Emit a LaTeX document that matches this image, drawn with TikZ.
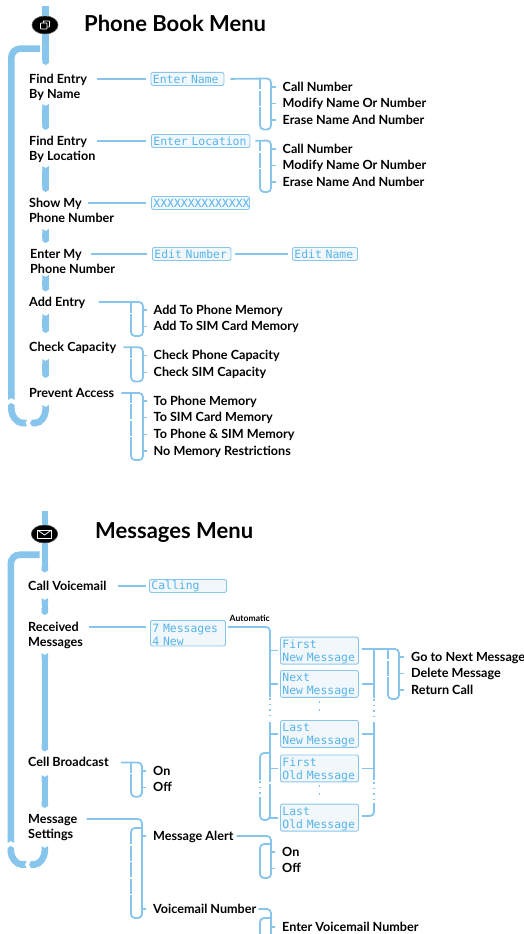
\documentclass[tikz,border=0pt]{standalone}
\usepackage{fontspec}
\usetikzlibrary{arrows.meta,shapes.geometric}
\setmainfont{Lato}
\newfontfamily\lcdfont{DejaVu Sans Mono}
\definecolor{flowblue}{HTML}{87C5EC}
\definecolor{lcdfill}{HTML}{F2F7FB}
\definecolor{lcdtext}{HTML}{55B4EA}
\newcommand{\twol}[2]{\vtop{\baselineskip=15.5pt\hbox{#1}\hbox to 0pt{#2\hss}}}
\tikzset{
  trunk/.style={draw=flowblue,line width=6.6pt},
  trunkseg/.style={trunk,{Triangle Cap[reversed,length=2pt]}-{Triangle Cap[length=2pt]}},
  lk/.style={draw=flowblue,line width=1.8pt},
  lkr/.style={lk,rounded corners=4pt},
  inner/.style={draw=flowblue,line width=1.1pt,dash pattern=on 15pt off 1.5pt},
  tickline/.style={lk,line width=1.3pt,shorten >=7pt},
  dotline/.style={draw=flowblue,line width=1.7pt,dash pattern=on 1.7pt off 6.3pt},
  gapdash/.style={draw=flowblue,line width=1.4pt,dash pattern=on 1.5pt off 4pt},
  lbl/.style={anchor=base west,inner sep=0pt,text height=10pt,text depth=2pt,font=\fontsize{12.6}{15}\selectfont\bfseries},
  heading/.style={anchor=base west,inner sep=0pt,font=\fontsize{22}{24}\selectfont\bfseries},
  lcd/.style={anchor=north west,draw=flowblue,fill=lcdfill,line width=0.9pt,rounded corners=2pt,inner xsep=2pt,inner ysep=0pt,align=left,text=lcdtext,font=\fontsize{11.4}{13}\lcdfont\selectfont,text width=#1},
  lcdone/.style={lcd=#1,minimum height=13pt},
  lcdtwo/.style={lcd=#1,minimum height=25.5pt,execute at begin node={\rule{0pt}{11.5pt}}},
}
\begin{document}
\begin{tikzpicture}[x=1pt,y=-1pt]
\useasboundingbox (0,0) rectangle (524,934);
\clip (0,0) rectangle (524,934);
% ---------- Phone Book ----------
\node[heading] (pbtitle) at (84,31.5) {Phone Book Menu};
\node[draw=black!70,fill=black,line width=.6pt,ellipse,minimum width=26pt,minimum height=18pt,inner sep=0pt] (pbicon) at (45,25) {};
\draw[white,line width=.8pt,rounded corners=.6pt] (40.5,23) rectangle (47,29);
\draw[white,line width=.8pt,rounded corners=.6pt] (43,21) -- (49.5,21) -- (49.5,27) -- (47,27);
\draw[white,line width=.8pt] (43,23) -- (43,21);
\node[lbl] (findname) at (29,83) {\twol{Find Entry}{By Name}};
\node[lbl] (findloc) at (29,145) {\twol{Find Entry}{By Location}};
\node[lbl] (showmy) at (29,207) {\twol{Show My}{Phone Number}};
\node[lbl] (entermy) at (30,258) {\twol{Enter My}{Phone Number}};
\node[lbl] (addentry) at (29,306) {Add Entry};
\node[lbl] (checkcap) at (29,351.3) {Check Capacity};
\node[lbl] (prevent) at (29,397) {Prevent Access};
% trunk
\coordinate (pbtop) at (45.6,6);
\coordinate (pbloop) at (40,48.7);
\draw[trunk] (pbtop) -- (pbicon.north -| pbtop);
\draw[trunk,-{Triangle Cap[length=2pt]}] (pbicon.south -| pbtop) -- (45.6,65);
\draw[trunkseg] (45.6,104) -- (45.6,130);
\draw[trunkseg] (45.6,166) -- (45.6,192);
\draw[trunkseg] (45.6,229) -- (45.6,243);
\draw[trunkseg] (45.6,275) -- (45.6,291.5);
\draw[trunkseg] (45.6,314) -- (45.6,333);
\draw[trunkseg] (45.6,359) -- (45.6,378);
\draw[trunk,{Triangle Cap[reversed,length=2pt]}-{Triangle Cap[length=2pt]}] (45.6,405) .. controls (45.6,416) and (41,423) .. (30,423);
\draw[trunk,{Triangle Cap[reversed,length=1.5pt]}-{Triangle Cap[length=2pt]}] (27,423) .. controls (17,423) and (11.3,416) .. (11.3,403);
\draw[trunk,rounded corners=9pt,-{Triangle Cap[reversed,length=2pt]}] (pbloop) -- (11.3,48.7) -- (11.3,400);
% LCDs
\node[lcdone=69pt] (enname) at (150.5,72) {\mbox{Enter Name}};
\node[lcdone=94.5pt] (enloc) at (151,134) {\mbox{Enter Location}};
\node[lcdone=94pt] (xxx) at (151,196) {\mbox{XXXXXXXXXXXXXX}};
\node[lcdone=74.5pt] (ednum) at (152,247) {\mbox{Edit Number}};
\node[lcdone=61pt] (edname) at (292,247) {\mbox{Edit Name}};
\draw[lk,shorten <=10pt,shorten >=5pt] (findname.east) -- (findname.east -| enname.west);
\draw[lk,shorten <=10pt,shorten >=5pt] (findloc.east) -- (findloc.east -| enloc.west);
\draw[lk,shorten <=6pt,shorten >=5pt] (showmy.east) -- (showmy.east -| xxx.west);
\draw[lk,shorten <=9pt,shorten >=5pt] (entermy.east) -- (entermy.east -| ednum.west);
\draw[lk,shorten <=4pt,shorten >=4pt] (ednum.east |- entermy.east) -- (entermy.east -| edname.west);
% options
\node[lbl] (o1a) at (282.5,91) {Call Number};
\node[lbl] (o1b) at (282.5,107.5) {Modify Name Or Number};
\node[lbl] (o1c) at (282.5,124) {Erase Name And Number};
\node[lbl] (o2a) at (282.5,153) {Call Number};
\node[lbl] (o2b) at (282.5,169.5) {Modify Name Or Number};
\node[lbl] (o2c) at (282.5,186) {Erase Name And Number};
\node[lbl] (o3a) at (153.5,314) {Add To Phone Memory};
\node[lbl] (o3b) at (153.5,330.7) {Add To SIM Card Memory};
\node[lbl] (o4a) at (153.5,359.7) {Check Phone Capacity};
\node[lbl] (o4b) at (153.5,376.2) {Check SIM Capacity};
\node[lbl] (o5a) at (153.5,405) {To Phone Memory};
\node[lbl] (o5b) at (153.5,421.7) {To SIM Card Memory};
\node[lbl] (o5c) at (153.5,438.5) {To Phone \& SIM Memory};
\node[lbl] (o5d) at (153.5,455) {No Memory Restrictions};
% brackets
\draw[lkr,shorten <=6pt] (enname.east) -- (271,78.5) -- (271,129.5) -- (260,129.5) -- (260,122);
\draw[inner] (260,122) -- (260,78.5);
\foreach \o in {o1a,o1b,o1c} \draw[tickline] (271,0 |- \o.west) -- (\o.west);
\draw[lkr,shorten <=5pt] (enloc.east) -- (271,140.5) -- (271,192) -- (260,192) -- (260,184);
\draw[inner] (260,184) -- (260,140.5);
\foreach \o in {o2a,o2b,o2c} \draw[tickline] (271,0 |- \o.west) -- (\o.west);
\draw[lkr,shorten <=13pt] (addentry.east) -- (143,302) -- (143,336) -- (131,336) -- (131,329);
\draw[inner] (131,329) -- (131,302);
\foreach \o in {o3a,o3b} \draw[tickline] (143,0 |- \o.west) -- (\o.west);
\draw[lkr,shorten <=7pt] (checkcap.east) -- (143,347.3) -- (143,381.5) -- (131,381.5) -- (131,374);
\draw[inner] (131,374) -- (131,347.3);
\foreach \o in {o4a,o4b} \draw[tickline] (143,0 |- \o.west) -- (\o.west);
\draw[lkr,shorten <=7pt] (prevent.east) -- (143,393) -- (143,460) -- (131,460) -- (131,452);
\draw[inner] (131,452) -- (131,393);
\foreach \o in {o5a,o5b,o5c,o5d} \draw[tickline] (143,0 |- \o.west) -- (\o.west);
% ---------- Messages ----------
\node[heading] (mgtitle) at (95,538) {Messages Menu};
\node[draw=black!70,fill=black,line width=.6pt,ellipse,minimum width=26.5pt,minimum height=18pt,inner sep=0pt] (mgicon) at (44.5,534) {};
\draw[white,line width=.8pt,line join=round] (37.5,530) rectangle (51.5,538.5);
\draw[white,line width=.8pt,line join=round] (37.5,530) -- (44.5,535) -- (51.5,530);
\node[lbl] (callvm) at (28,590) {Call Voicemail};
\node[lbl] (recv) at (28,631) {\twol{Received}{Messages}};
\node[lbl] (cellb) at (28,766.5) {Cell Broadcast};
\node[lbl] (msgset) at (28,823) {\twol{Message}{Settings}};
\coordinate (mgtop) at (44.8,510.7);
\coordinate (mgloop) at (39.5,554.7);
\draw[trunk] (mgtop) -- (mgicon.north -| mgtop);
\draw[trunk,-{Triangle Cap[length=2pt]}] (mgicon.south -| mgtop) -- (44.8,572.5);
\draw[trunkseg] (44.8,598) -- (44.8,615);
\draw[trunkseg] (44.8,653) -- (44.8,751.5);
\draw[trunkseg] (44.8,775) -- (44.8,808);
\draw[trunk,{Triangle Cap[reversed,length=2pt]}-{Triangle Cap[length=2pt]}] (44.8,846) .. controls (44.8,857) and (40,864.5) .. (29,864.5);
\draw[trunk,{Triangle Cap[reversed,length=1.5pt]}-{Triangle Cap[length=2pt]}] (26.5,864.5) .. controls (16,864.5) and (10.8,857) .. (10.8,846);
\draw[trunk,rounded corners=9pt,-{Triangle Cap[reversed,length=2pt]}] (mgloop) -- (10.8,554.7) -- (10.8,843);
% LCDs
\node[lcdone=73pt] (calling) at (149,579) {\mbox{Calling}};
\node[lcdtwo=71pt] (sevenm) at (150,620) {\mbox{7 Messages}\\\mbox{4 New}};
\node[lcdtwo=74pt] (m1) at (280,636.7) {\mbox{First}\\\mbox{New Message}};
\node[lcdtwo=74pt] (m2) at (280,670) {\mbox{Next}\\\mbox{New Message}};
\node[lcdtwo=74pt] (m3) at (280,720) {\mbox{Last}\\\mbox{New Message}};
\node[lcdtwo=74pt] (m4) at (280,754.5) {\mbox{First}\\\mbox{Old Message}};
\node[lcdtwo=74pt] (m5) at (280,803.7) {\mbox{Last}\\\mbox{Old Message}};
\draw[lk,shorten <=11pt,shorten >=3pt] (callvm.east) -- (callvm.east -| calling.west);
\draw[lk,shorten <=10pt,shorten >=4pt] (recv.east) -- (recv.east -| sevenm.west);
\node[anchor=base west,inner sep=0pt,font=\fontsize{8.6}{10}\selectfont\bfseries] (auto) at (229.5,621.7) {Automatic};
% automatic rail
\draw[lkr,shorten <=2pt] (sevenm.east |- recv.east) -- (270,627) -- (270,697);
\draw[lk] (270,722) -- (270,780);
\draw[lk] (270,784) -- (270,0 |- m5.west) -- ([xshift=-2pt]m5.west);
\draw[gapdash] (270,698) -- (270,720);
\draw[gapdash] (270,780) -- (270,803);
\foreach \m in {m1,m2,m3,m4,m5} \draw[lk,line width=1.3pt,shorten >=2pt] (270,0 |- \m.west) -- (\m.west);
\draw[lkr] (270,753) -- (260,753) -- (260,780);
\draw[lkr] (260,797) -- (260,820) -- (270,820) -- (270,812);
\draw[gapdash] (260,781) -- (260,797);
\draw[dotline,shorten <=3.5pt,shorten >=3.5pt] (m2.south) -- (m3.north);
\draw[dotline,shorten <=2.5pt,shorten >=3.5pt] (m4.south) -- (m5.north);
% collector
\node[lbl] (a1) at (411,661) {Go to Next Message};
\node[lbl] (a2) at (411,677.5) {Delete Message};
\node[lbl] (a3) at (411,694) {Return Call};
\draw[lkr,shorten <=3pt] (m1.east |- 0,649) -- (399,649) -- (399,699) -- (388,699) -- (388,692);
\draw[inner] (388,692) -- (388,649);
\foreach \o in {a1,a2,a3} \draw[tickline,shorten >=7pt] (399,0 |- \o.west) -- (\o.west);
\draw[lk] (374,649) -- (374,698);
\draw[gapdash] (374,699) -- (374,720);
\draw[lk] (374,722) -- (374,780);
\draw[gapdash] (374,782) -- (374,803);
\draw[lkr,shorten >=3pt] (374,803) -- (374,816) -- (m5.east |- 0,816);
\foreach \m in {m2,m3,m4} \draw[lk,shorten <=3pt] (\m.east) -- (374,0 |- \m.east);
% cell broadcast
\node[lbl] (cb1) at (153,775) {On};
\node[lbl] (cb2) at (153,791.5) {Off};
\draw[lkr,shorten <=12pt] (cellb.east) -- (142,762.5) -- (142,796.7) -- (131,796.7) -- (131,789);
\draw[inner] (131,789) -- (131,762.5);
\foreach \o in {cb1,cb2} \draw[tickline] (142,0 |- \o.west) -- (\o.west);
% message settings
\node[lbl] (ms1) at (153,840) {Message Alert};
\node[lbl] (ms2) at (153,913) {Voicemail Number};
\draw[lkr,shorten <=9pt] (msgset.east) -- (142,819) -- (142,918) -- (131,918) -- (131,910);
\draw[inner] (131,910) -- (131,834);
\draw[lkr] (131,836) -- (131,828) -- (142,828);
\foreach \o in {ms1,ms2} \draw[tickline] (142,0 |- \o.west) -- (\o.west);
\node[lbl] (al1) at (282,856) {On};
\node[lbl] (al2) at (282,872.5) {Off};
\draw[lkr,shorten <=3pt] (ms1.east) -- (271,836) -- (271,878) -- (260,878) -- (260,844) -- (271,844);
\foreach \o in {al1,al2} \draw[tickline] (271,0 |- \o.west) -- (\o.west);
\node[lbl] (vm1) at (282,931) {Enter Voicemail Number};
\draw[lkr,shorten <=2pt] (ms2.east) -- (271,909) -- (271,940);
\draw[lkr] (260,940) -- (260,918) -- (271,918);
\draw[tickline] (271,0 |- vm1.west) -- (vm1.west);
\end{tikzpicture}
\end{document}
